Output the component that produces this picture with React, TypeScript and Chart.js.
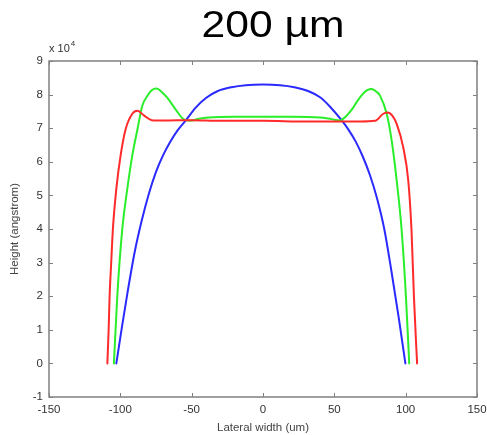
import React, { useEffect, useRef } from "react";
import { Chart, registerables } from "chart.js";

Chart.register(...registerables);

// Labels
const TITLE = "200 µm";
const X_LABEL = "Lateral width (um)";
const Y_LABEL = "Height (angstrom)";
const Y_EXPONENT = "4";

// Axis ranges (x in um, y in angstrom)
const X_MIN = -150;
const X_MAX = 150;
const X_STEP = 50;
const Y_MIN = -10000;
const Y_MAX = 90000;
const Y_STEP = 10000;
const Y_SCALE = 10000;

// Red profile
const redX = [-109.1, -108.2, -107.5, -106.4, -105.2, -102.8, -99.8, -96.3, -91.6, -88, -83.5, -78, -70, -50, -30, 0, 30, 50, 68, 78.5, 84.3, 87.6, 90.5, 93.7, 98.3, 101.8, 104.1, 105.8, 108];
const redY = [0, 10000, 20300, 30000, 40100, 52000, 61900, 69700, 74300, 75200, 73800, 72400, 72300, 72400, 72200, 72200, 72000, 72000, 72000, 72200, 74300, 74700, 73800, 71300, 64300, 54500, 39600, 19800, 0];

// Green profile
const greenX = [-104.5, -102.1, -98.6, -95.1, -91.6, -88, -84.6, -81.1, -78, -74.6, -71, -67, -61.3, -55.5, -51, -45, -38, -20, 0, 20, 40, 48, 54, 58, 62.2, 66, 70, 73, 76.2, 79, 82, 86.7, 90.2, 93.7, 97.2, 100.2, 102.5];
const greenY = [0, 20300, 40100, 52000, 61900, 69700, 76700, 79600, 81300, 81800, 80800, 79000, 75600, 72600, 72200, 72800, 73200, 73400, 73400, 73400, 73200, 72700, 72300, 73500, 75500, 78000, 80200, 81300, 81700, 81000, 79700, 74300, 66300, 54500, 39600, 19800, 0];

// Blue profile
const blueX = [-102.8, -99, -95, -90, -85, -80, -75, -70, -65, -60, -54, -47, -40, -32, -22, -12, 0, 12, 22, 32, 40, 47, 55.2, 60, 65, 70, 75, 80, 85, 90, 95, 99.8];
const blueY = [0, 10500, 21000, 33000, 42500, 50500, 57000, 62000, 66000, 69300, 72400, 76200, 79000, 81000, 82200, 82800, 83000, 82800, 82200, 81000, 79200, 76400, 72300, 69500, 66000, 61500, 56000, 49000, 40000, 27500, 14000, 0];

const toPoints = (xs: number[], ys: number[]) => xs.map((x, i) => ({ x, y: ys[i] }));

const frameColor = "#808080";
const textColor = "#333333";
const FONT = '"Liberation Sans", Arial, sans-serif';

// Draws the boxed frame with inward tick marks, the title, the axis titles and the exponent
const framePlugin = {
  id: "matlabFrame",
  afterDraw(chart: any) {
    const { ctx, chartArea, scales } = chart;
    const { left, right, top, bottom } = chartArea;
    const xs = scales.x;
    const ys = scales.y;
    const tickLen = 4;
    ctx.save();
    ctx.strokeStyle = frameColor;
    ctx.lineWidth = 1.5;
    ctx.strokeRect(left, top, right - left, bottom - top);
    ctx.lineWidth = 1;
    ctx.beginPath();
    xs.ticks.forEach((t: any) => {
      const px = Math.round(xs.getPixelForValue(t.value)) + 0.5;
      ctx.moveTo(px, bottom);
      ctx.lineTo(px, bottom - tickLen);
      ctx.moveTo(px, top);
      ctx.lineTo(px, top + tickLen);
    });
    ys.ticks.forEach((t: any) => {
      const py = Math.round(ys.getPixelForValue(t.value)) + 0.5;
      ctx.moveTo(left, py);
      ctx.lineTo(left + tickLen, py);
      ctx.moveTo(right, py);
      ctx.lineTo(right - tickLen, py);
    });
    ctx.stroke();

    // title
    ctx.fillStyle = "#000000";
    ctx.font = `36px ${FONT}`;
    ctx.textAlign = "center";
    ctx.textBaseline = "alphabetic";
    const w = ctx.measureText(TITLE).width;
    ctx.save();
    ctx.translate(273, 37);
    ctx.scale(143 / w, 1);
    ctx.fillText(TITLE, 0, 0);
    ctx.restore();

    // exponent marker above the y axis
    ctx.fillStyle = textColor;
    ctx.textAlign = "left";
    ctx.font = `11px ${FONT}`;
    const base = "x 10";
    ctx.fillText(base, left, top - 9);
    const bw = ctx.measureText(base).width;
    ctx.font = `8px ${FONT}`;
    ctx.fillText(Y_EXPONENT, left + bw + 1, top - 15);

    // axis titles
    ctx.font = `11.5px ${FONT}`;
    ctx.textAlign = "center";
    ctx.textBaseline = "middle";
    ctx.fillStyle = "#444444";
    ctx.fillText(X_LABEL, (left + right) / 2, 428);
    ctx.save();
    ctx.translate(15, (top + bottom) / 2);
    ctx.rotate(-Math.PI / 2);
    ctx.fillText(Y_LABEL, 0, 0);
    ctx.restore();
    ctx.restore();
  },
};

export default function App() {
  const ref = useRef<HTMLCanvasElement | null>(null);

  useEffect(() => {
    if (!ref.current) return;
    const line = (label: string, xs: number[], ys: number[], color: string) => ({
      label,
      data: toPoints(xs, ys),
      borderColor: color,
      backgroundColor: color,
      borderWidth: 2,
      pointRadius: 0,
      fill: false,
      cubicInterpolationMode: "monotone" as const,
      borderCapStyle: "round" as const,
      borderJoinStyle: "round" as const,
    });
    const chart = new Chart(ref.current, {
      type: "line",
      data: {
        datasets: [
          line("red", redX, redY, "#ff2a2a"),
          line("green", greenX, greenY, "#2aee2a"),
          line("blue", blueX, blueY, "#2a2aff"),
        ],
      },
      plugins: [framePlugin],
      options: {
        animation: false,
        responsive: false,
        devicePixelRatio: 1,
        layout: { padding: { top: 61, right: 10, left: 0, bottom: 0 } },
        plugins: { legend: { display: false }, tooltip: { enabled: false }, title: { display: false } },
        scales: {
          x: {
            type: "linear",
            min: X_MIN,
            max: X_MAX,
            grid: { display: false, drawTicks: false },
            border: { display: false },
            ticks: {
              stepSize: X_STEP,
              autoSkip: false,
              maxRotation: 0,
              padding: 6,
              color: textColor,
              font: { family: FONT, size: 11.5 },
            },
            afterFit: (s: any) => {
              s.height = 38;
              s.paddingLeft = 0;
              s.paddingRight = 0;
            },
          },
          y: {
            type: "linear",
            min: Y_MIN,
            max: Y_MAX,
            grid: { display: false, drawTicks: false },
            border: { display: false },
            ticks: {
              stepSize: Y_STEP,
              autoSkip: false,
              padding: 6,
              color: textColor,
              font: { family: FONT, size: 11.5 },
              callback: (v: any) => String(Number(v) / Y_SCALE),
            },
            afterFit: (s: any) => {
              s.width = 49;
              s.paddingTop = 0;
              s.paddingBottom = 0;
            },
          },
        },
      },
    });
    return () => chart.destroy();
  }, []);

  return (
    <div style={{ position: "absolute", left: 0, top: 0, width: 487, height: 435, background: "#ffffff" }}>
      <canvas ref={ref} width={487} height={435} style={{ width: 487, height: 435, display: "block" }} />
    </div>
  );
}
